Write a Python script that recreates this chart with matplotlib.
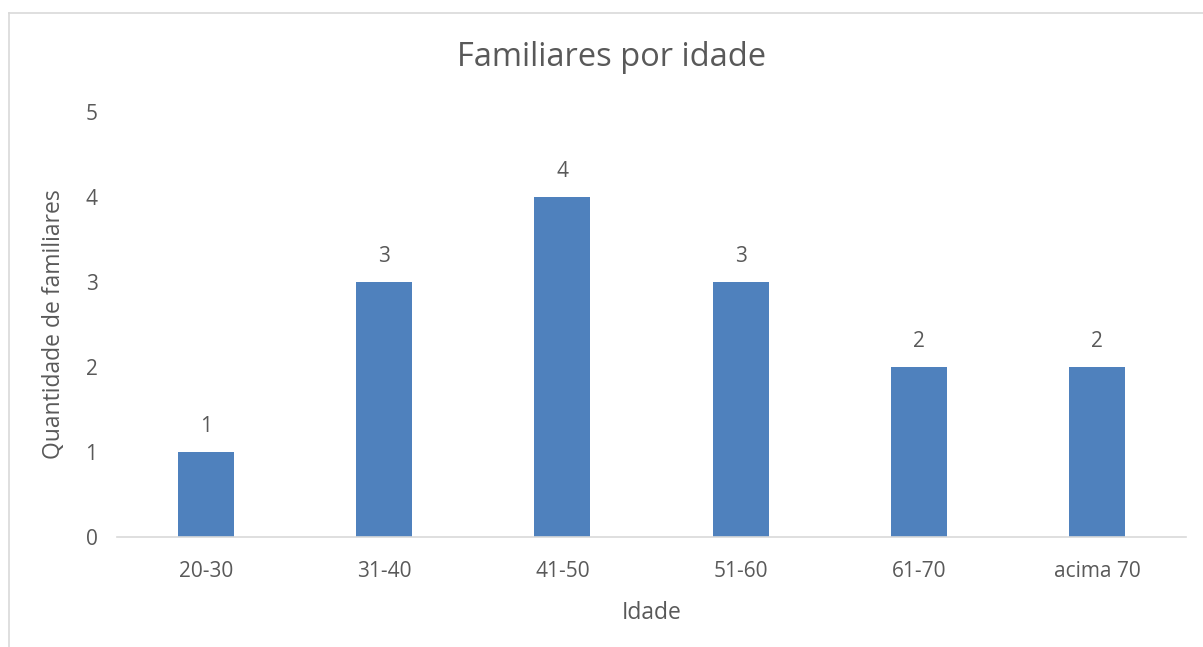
import matplotlib.pyplot as plt
from matplotlib.lines import Line2D

# Data
categories = ['20-30', '31-40', '41-50', '51-60', '61-70', 'acima 70']
values = [1, 3, 4, 3, 2, 2]
y_ticks = [0, 1, 2, 3, 4, 5]

text_color = '#595959'
bar_color = '#4F81BD'
plt.rcParams['font.family'] = ['Open Sans', 'DejaVu Sans']

W, H = 1203, 647
fig = plt.figure(figsize=(W / 100, H / 100), dpi=100)
ax = fig.add_axes([117 / W, (H - 537) / H, (1186 - 117) / W, (537 - 112) / H])

x = range(len(categories))
ax.bar(x, values, width=0.315, color=bar_color, zorder=2)

for xi, v in zip(x, values):
    ax.text(xi, v + 0.18, str(v), ha='center', va='bottom', fontsize=15, color=text_color)

ax.set_xlim(-0.5, len(categories) - 0.5)
ax.set_ylim(0, 5)
ax.set_yticks(y_ticks)
ax.set_xticks(list(x))
ax.set_xticklabels(categories)
ax.tick_params(axis='both', length=0, labelsize=15, colors=text_color)
ax.tick_params(axis='y', pad=14)
ax.tick_params(axis='x', pad=17)

for s in ['top', 'right', 'left']:
    ax.spines[s].set_visible(False)
ax.spines['bottom'].set_color('#D9D9D9')
ax.spines['bottom'].set_linewidth(1.2)

ax.set_xlabel('Idade', fontsize=16.5, color=text_color, labelpad=14)
ax.set_ylabel('Quantidade de familiares', fontsize=16.5, color=text_color, labelpad=14)
fig.text(612 / W, 1 - 58 / H, 'Familiares por idade', ha='center', va='center',
         fontsize=23.5, color=text_color)

# chart area border (left and top visible)
fig.add_artist(Line2D([9 / W, 9 / W], [0, 1 - 13 / H], transform=fig.transFigure,
                      color='#D9D9D9', linewidth=1.2))
fig.add_artist(Line2D([9 / W, 1], [1 - 13 / H, 1 - 13 / H], transform=fig.transFigure,
                      color='#D9D9D9', linewidth=1.2))

fig.savefig('out.png', dpi=100)
